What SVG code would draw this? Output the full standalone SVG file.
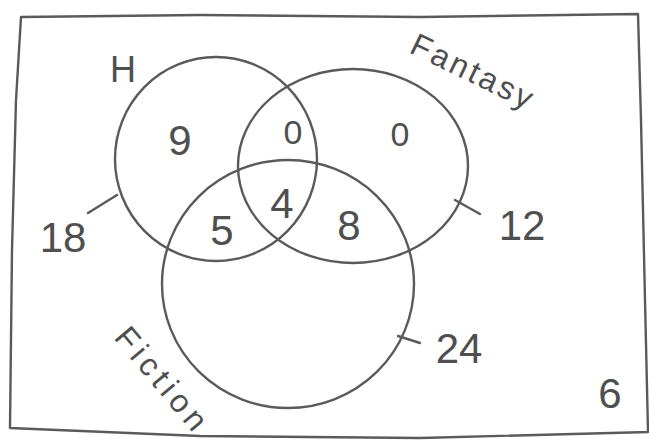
<svg xmlns="http://www.w3.org/2000/svg" width="649" height="445" viewBox="0 0 649 445">
<style>
.ln{fill:none;stroke:#5a5a5a;stroke-width:2.4;stroke-linecap:round;stroke-linejoin:round}
.t{font-family:"Liberation Sans",Arial,sans-serif;fill:#4f4f4f;font-size:42px;text-anchor:middle}
.t.s{font-size:34px}
.lbl{font-family:"Liberation Sans",Arial,sans-serif;fill:#4f4f4f;font-size:32px}
</style>
<rect width="649" height="445" fill="#fff"/>
<g id="frame"><path class="ln" d="M21,17 L200,15 L420,17 L638,14 L641,120 L645,300 L648,432 L420,438 L200,436 L10,428 L12,250 L16,100 Z"/></g>
<g id="H"><ellipse class="ln" cx="216" cy="159" rx="101" ry="102"/><text class="lbl" x="110" y="82" style="font-size:36px">H</text></g>
<g id="Fantasy"><ellipse class="ln" cx="353" cy="166" rx="115" ry="97"/><text class="lbl" style="letter-spacing:3px" transform="translate(408,52) rotate(26)">Fantasy</text></g>
<g id="Fiction"><ellipse class="ln" cx="288" cy="284" rx="126" ry="124"/><text class="lbl" style="letter-spacing:5px" transform="translate(113,338) rotate(50)">Fiction</text></g>
<g id="regions">
<text class="t" x="180" y="155">9</text>
<text class="t s" x="293" y="144">0</text>
<text class="t s" x="400" y="146">0</text>
<text class="t" x="282" y="218">4</text>
<text class="t" x="222" y="245">5</text>
<text class="t" x="349" y="240">8</text>
<text class="t" x="610" y="408">6</text>
</g>
<g id="connectors">
<path class="ln" d="M88,213 L117,195"/>
<path class="ln" d="M455,200 L480,214"/>
<path class="ln" d="M398,336 L420,343"/>
</g>
<g id="outside">
<text class="t" x="63" y="252">18</text>
<text class="t" x="522" y="240">12</text>
<text class="t" x="459" y="363">24</text>
</g>
</svg>
